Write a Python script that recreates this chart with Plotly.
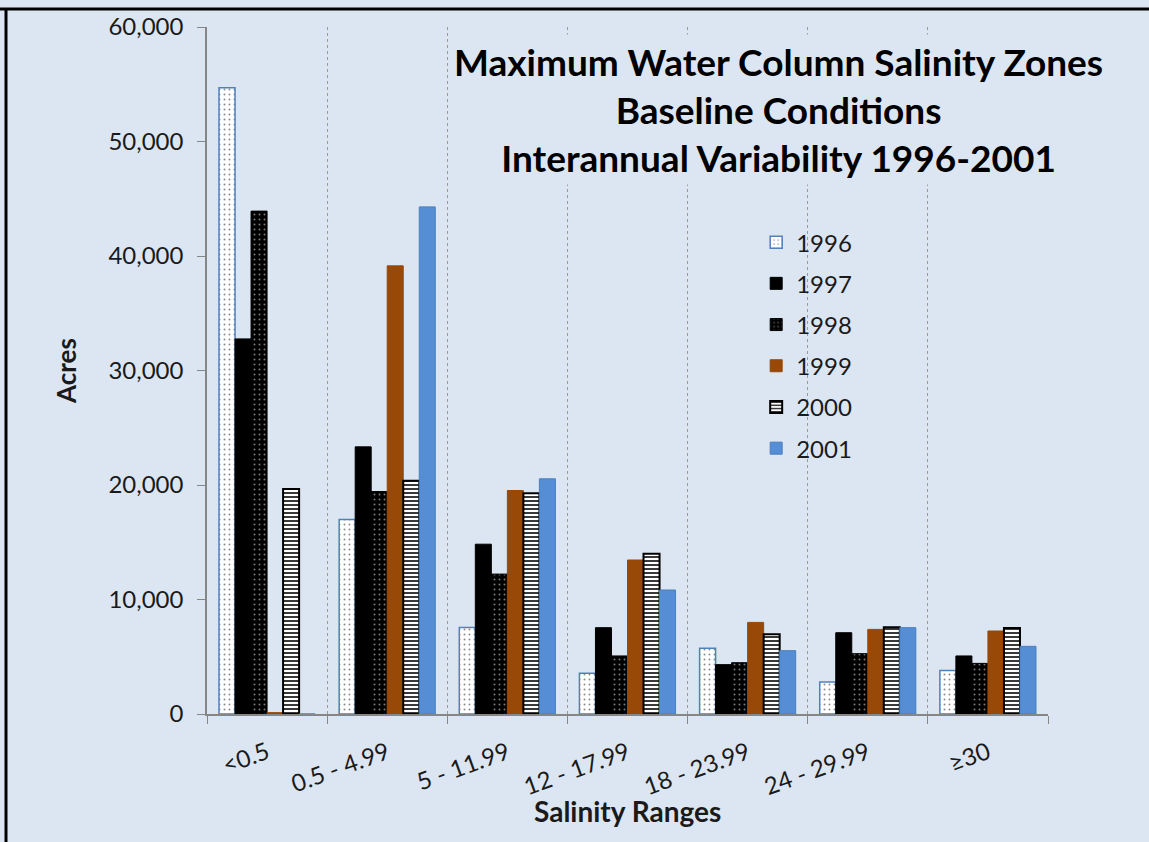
import plotly.graph_objects as go

categories = ["<0.5", "0.5 - 4.99", "5 - 11.99", "12 - 17.99", "18 - 23.99", "24 - 29.99", "≥30"]
years = ["1996", "1997", "1998", "1999", "2000", "2001"]

v1996 = [54700, 16980, 7560, 3550, 5740, 2790, 3810]
v1997 = [32760, 23330, 14830, 7540, 4310, 7100, 5070]
v1998 = [43920, 19430, 12220, 5070, 4480, 5270, 4420]
v1999 = [120, 39140, 19520, 13450, 8000, 7390, 7250]
v2000 = [19660, 20380, 19270, 14000, 6960, 7570, 7510]
v2001 = [0, 44290, 20540, 10830, 5530, 7540, 5910]

series = [v1996, v1997, v1998, v1999, v2000, v2001]

BG = "#dce6f2"
FONT = "Lato"

styles = [
    dict(color="white", line=dict(color="#4f81bd", width=1.5),
         pattern=dict(shape=".", fgcolor="#8c8c8c", bgcolor="white", size=5, solidity=0.12, fillmode="replace")),
    dict(color="black", line=dict(color="black", width=1)),
    dict(color="black", line=dict(color="black", width=1),
         pattern=dict(shape=".", fgcolor="#7a7a7a", bgcolor="black", size=5, solidity=0.12, fillmode="replace")),
    dict(color="#984807", line=dict(color="#984807", width=1)),
    dict(color="white", line=dict(color="black", width=2),
         pattern=dict(shape="-", fgcolor="#222222", bgcolor="white", size=4, solidity=0.45, fillmode="replace")),
    dict(color="#558ed5", line=dict(color="#4a7fc0", width=1)),
]

fig = go.Figure()
for name, vals, st in zip(years, series, styles):
    fig.add_trace(go.Bar(x=categories, y=vals, name=name, marker=st, legendgroup=name))

fig.update_layout(
    width=1149, height=842,
    margin=dict(l=207, r=101, t=27, b=128),
    paper_bgcolor=BG, plot_bgcolor=BG,
    font=dict(family=FONT, color="#1a1a1a", size=24),
    barmode="group", bargap=0.2, bargroupgap=0,
    showlegend=True,
    legend=dict(x=0.653, y=0.719, xanchor="left", yanchor="top",
                bgcolor="rgba(0,0,0,0)", font=dict(size=24, family=FONT),
                tracegroupgap=7, traceorder="grouped", itemwidth=30),
    xaxis=dict(
        tickangle=-20, tickson="boundaries", ticks="outside", ticklen=8,
        tickcolor="#868686", showline=True, linecolor="#868686", linewidth=1.5,
        showgrid=True, gridcolor="#9a9a9a", griddash="3px,3px", gridwidth=1,
        tickfont=dict(size=24, family=FONT), ticklabelstandoff=14,
        range=[-0.5, 6.5],
    ),
    yaxis=dict(
        range=[0, 60000], dtick=10000, tickformat=",", showgrid=False, zeroline=False,
        ticks="outside", ticklen=8, tickcolor="#868686",
        showline=True, linecolor="#868686", linewidth=1.5,
        tickfont=dict(size=24, family=FONT), ticklabelstandoff=9,
        title=dict(text="<b>Acres</b>", font=dict(size=26, family=FONT), standoff=24),
    ),
)

fig.add_annotation(
    xref="paper", yref="paper", x=0.5, y=0, xanchor="center", yanchor="middle", yshift=-97,
    text="<b>Salinity Ranges</b>", showarrow=False,
    font=dict(size=28, family=FONT, color="#1a1a1a"),
)

fig.add_annotation(
    xref="paper", yref="paper", x=0.68, y=0.99, xanchor="center", yanchor="top",
    text="<b>Maximum Water Column Salinity Zones<br>Baseline Conditions<br>Interannual Variability 1996-2001</b>",
    showarrow=False, align="center", bgcolor=BG, borderpad=4,
    font=dict(size=37, family=FONT, color="black"),
)

# outer frame (top and left edges)
fig.add_shape(type="line", xref="paper", yref="paper", x0=-207/841, x1=1.2, y0=1 + 18/687, y1=1 + 18/687,
              line=dict(color="black", width=3))
fig.add_shape(type="line", xref="paper", yref="paper", x0=-201/841, x1=-201/841, y0=-0.2, y1=1 + 18/687,
              line=dict(color="black", width=3))

fig.write_html("out.html")
